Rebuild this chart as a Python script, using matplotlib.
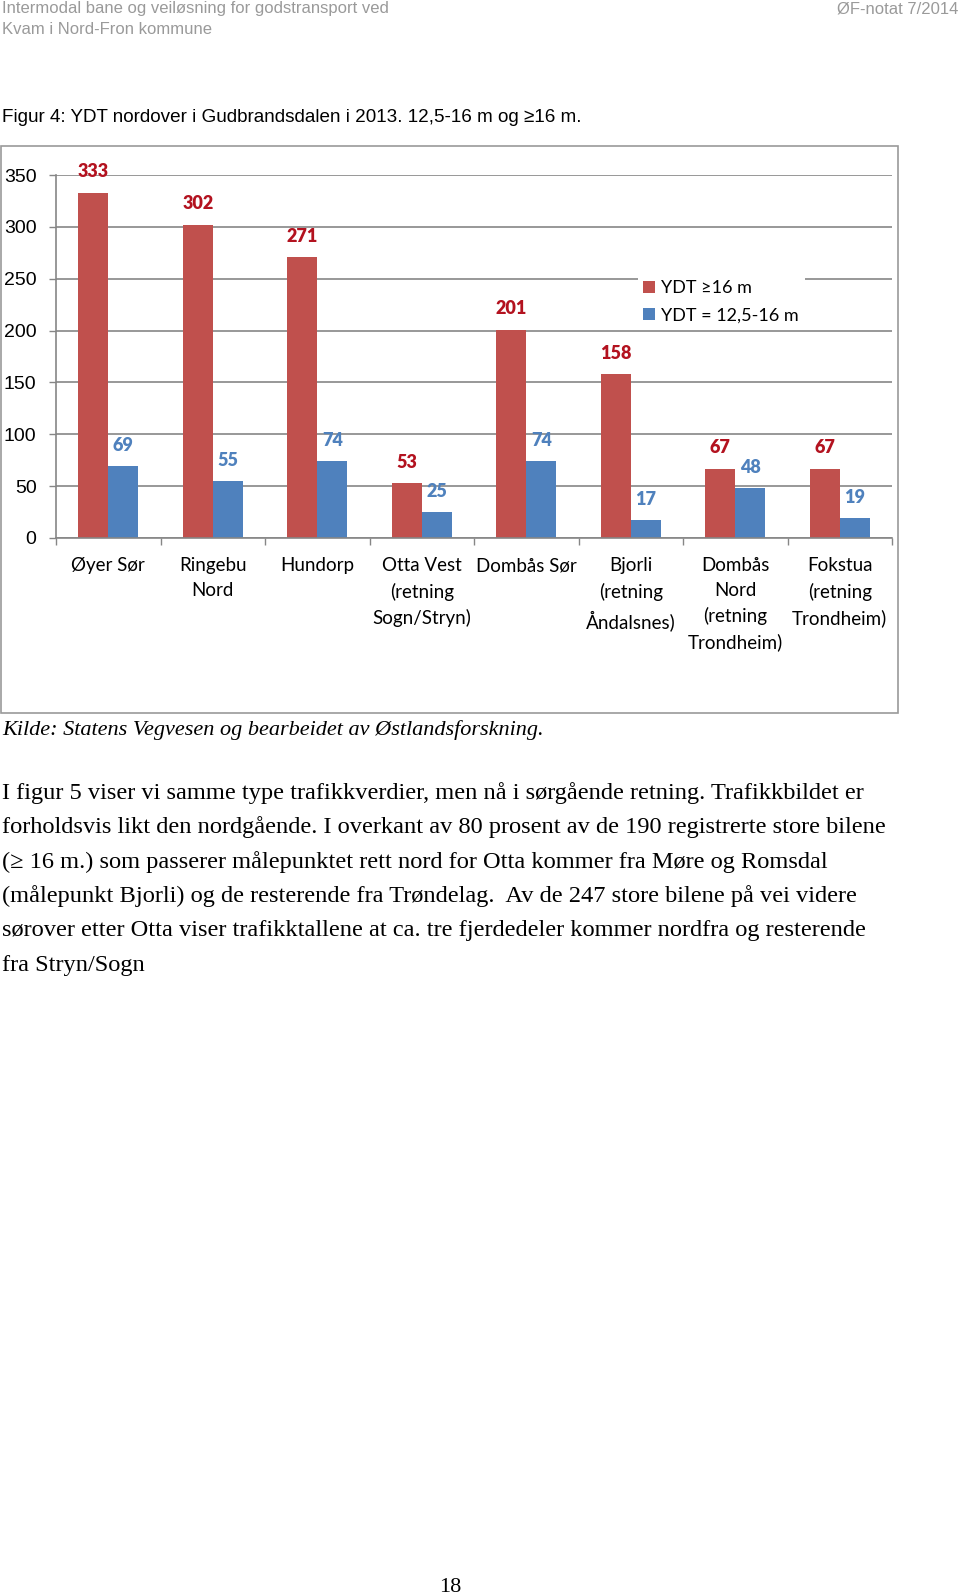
# -*- coding: utf-8 -*-
# YDT nordover i Gudbrandsdalen 2013 - side 18

import numpy as np
import matplotlib.pyplot as plt
from matplotlib.patches import Rectangle

# %% Data

steder = ["Øyer Sør", "Ringebu\nNord", "Hundorp", "Otta Vest\n(retning\nSogn/Stryn)",
          "Dombås Sør", "Bjorli\n(retning\nÅndalsnes)", "Dombås\nNord\n(retning\nTrondheim)",
          "Fokstua\n(retning\nTrondheim)"]
ydt_over16 = [333, 302, 271, 53, 201, 158, 67, 67]
ydt_12_16 = [69, 55, 74, 25, 74, 17, 48, 19]
yticks = [0, 50, 100, 150, 200, 250, 300, 350]

header1 = "Intermodal bane og veiløsning for godstransport ved"
header2 = "Kvam i Nord-Fron kommune"
header_right = "ØF-notat 7/2014"
caption = "Figur 4: YDT nordover i Gudbrandsdalen i 2013. 12,5-16 m og ≥16 m."
kilde = "Kilde: Statens Vegvesen og bearbeidet av Østlandsforskning."
body = ["I figur 5 viser vi samme type trafikkverdier, men nå i sørgående retning. Trafikkbildet er",
        "forholdsvis likt den nordgående. I overkant av 80 prosent av de 190 registrerte store bilene",
        "(≥ 16 m.) som passerer målepunktet rett nord for Otta kommer fra Møre og Romsdal",
        "(målepunkt Bjorli) og de resterende fra Trøndelag.  Av de 247 store bilene på vei videre",
        "sørover etter Otta viser trafikktallene at ca. tre fjerdedeler kommer nordfra og resterende",
        "fra Stryn/Sogn"]
sidenr = "18"

# %% Oppsett

W, H = 960, 1596
rod = "#C0504D"
bla = "#4F81BD"
gra = "#868686"
sans = ["Lato", "DejaVu Sans"]
serif = ["Liberation Serif", "DejaVu Serif"]

def fy(y):
    return 1 - y / H

fig = plt.figure(figsize=(W / 100, H / 100), dpi=100)

# tekst rundt figuren
fig.text(2 / W, fy(9), header1, fontsize=12, color="#9a9a9a", family="Liberation Sans", va="center")
fig.text(2 / W, fy(30), header2, fontsize=12, color="#9a9a9a", family="Liberation Sans", va="center")
fig.text(958 / W, fy(9), header_right, fontsize=12, color="#9a9a9a", family="Liberation Sans",
         va="center", ha="right")
fig.text(2 / W, fy(117), caption, fontsize=13.6, color="black", family=["Liberation Sans", "DejaVu Sans"],
         va="center")

# ramme rundt diagrammet
fig.add_artist(Rectangle((1 / W, fy(713)), 897 / W, 567 / H, transform=fig.transFigure,
                         facecolor="none", edgecolor="#9a9a9a", lw=1.2))

# %% Plotting

ax = fig.add_axes([56 / W, fy(538), 836 / W, 363 / H])
x = np.arange(len(steder))
b = 0.287
bars1 = ax.bar(x - b / 2, ydt_over16, b, color=rod, label="YDT ≥16 m", zorder=2)
bars2 = ax.bar(x + b / 2, ydt_12_16, b, color=bla, label="YDT = 12,5-16 m", zorder=2)

for xi, v in zip(x - b / 2, ydt_over16):
    ax.annotate(str(v), (xi, v), xytext=(0, 15), textcoords="offset points", ha="center",
                va="center", fontsize=13, fontweight="heavy", color="#B3121F", family=sans)
for xi, v in zip(x + b / 2, ydt_12_16):
    ax.annotate(str(v), (xi, v), xytext=(0, 15), textcoords="offset points", ha="center",
                va="center", fontsize=13, fontweight="heavy", color=bla, family=sans)

ax.set_xlim(-0.5, len(steder) - 0.5)
ax.set_ylim(0, 350)
ax.set_yticks(yticks)
ax.set_yticklabels([str(t) for t in yticks], fontsize=14, family="Liberation Sans")
ax.set_xticks(x)
ax.set_xticklabels(steder, fontsize=13.5, family=sans, linespacing=1.55)
ax.set_xticks(np.arange(len(steder) + 1) - 0.5, minor=True)
ax.tick_params(axis="x", which="major", length=0, pad=14)
ax.tick_params(axis="x", which="minor", length=5, color=gra, width=1)
ax.tick_params(axis="y", length=5, color=gra, width=1, pad=9)
ax.grid(axis="y", color=gra, lw=1.2)
ax.set_axisbelow(True)
for s in ["top", "right"]:
    ax.spines[s].set_visible(False)
for s in ["left", "bottom"]:
    ax.spines[s].set_color(gra)
    ax.spines[s].set_linewidth(1.2)

leg = ax.legend(loc="upper left", bbox_to_anchor=(638 / W, fy(275)), bbox_transform=fig.transFigure,
                prop={"family": sans, "size": 13}, frameon=True, facecolor="white", edgecolor="none",
                framealpha=1, fancybox=False, handlelength=0.65, handleheight=0.65, handletextpad=0.35,
                labelspacing=0.62, borderpad=0.3, borderaxespad=0)

# kilde og brodtekst
fig.text(2 / W, fy(730), kilde, fontsize=16, style="italic", family=serif, va="center")
for i, linje in enumerate(body):
    fig.text(2 / W, fy(793 + i * 34.4), linje, fontsize=17.6, family=serif, va="center")
fig.text(450 / W, fy(1587), sidenr, fontsize=16, family=serif, va="center", ha="center")

plt.savefig("out.png", dpi=100)
